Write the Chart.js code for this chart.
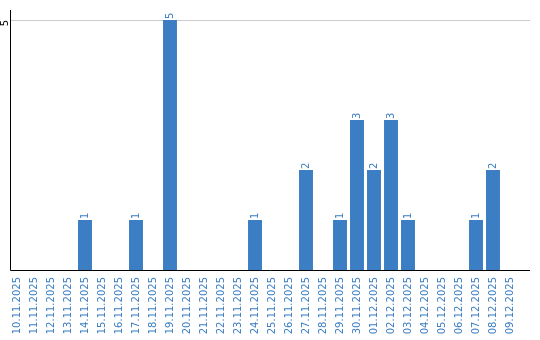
<!DOCTYPE html>
<html>
<head>
<meta charset="utf-8">
<script src="https://cdn.jsdelivr.net/npm/chart.js@4"></script>
<style>
html,body{margin:0;padding:0;background:#fff;}
#wrap{width:540px;height:340px;position:relative;}
</style>
</head>
<body>
<div id="wrap"><canvas id="c" width="540" height="340"></canvas></div>
<script>
const categories = ["10.11.2025","11.11.2025","12.11.2025","13.11.2025","14.11.2025","15.11.2025","16.11.2025","17.11.2025","18.11.2025","19.11.2025","20.11.2025","21.11.2025","22.11.2025","23.11.2025","24.11.2025","25.11.2025","26.11.2025","27.11.2025","28.11.2025","29.11.2025","30.11.2025","01.12.2025","02.12.2025","03.12.2025","04.12.2025","05.12.2025","06.12.2025","07.12.2025","08.12.2025","09.12.2025"];
const counts = [0,0,0,0,1,0,0,1,0,5,0,0,0,0,1,0,0,2,0,1,3,2,3,1,0,0,0,1,2,0];
const yTicks = [5];

const BLUE = '#3b7ec3';
const FONT = '"DejaVu Sans", Verdana, sans-serif';

const linesPlugin = {
  id: 'lines',
  beforeDatasetsDraw(chart) {
    const ctx = chart.ctx, y = chart.scales.y, a = chart.chartArea;
    ctx.save();
    ctx.lineWidth = 1;
    ctx.strokeStyle = '#cccccc';
    yTicks.forEach(v => {
      const py = Math.round(y.getPixelForValue(v)) + 0.5;
      ctx.beginPath(); ctx.moveTo(10, py); ctx.lineTo(530, py); ctx.stroke();
    });
    ctx.restore();
  },
  afterDatasetsDraw(chart) {
    const ctx = chart.ctx, y = chart.scales.y;
    const base = Math.round(y.getPixelForValue(0)) + 0.5;
    ctx.save();
    ctx.strokeStyle = '#000';
    ctx.lineWidth = 1;
    ctx.beginPath(); ctx.moveTo(10.5, 10); ctx.lineTo(10.5, base); ctx.lineTo(530, base); ctx.stroke();
    // y tick labels (rotated)
    ctx.fillStyle = '#000';
    ctx.font = '10px ' + FONT;
    yTicks.forEach(v => {
      const py = y.getPixelForValue(v);
      ctx.save();
      ctx.translate(5, py);
      ctx.rotate(-Math.PI / 2);
      ctx.textAlign = 'right';
      ctx.textBaseline = 'middle';
      ctx.fillText(String(v), 0, 0);
      ctx.restore();
    });
    // value labels
    const meta = chart.getDatasetMeta(0);
    ctx.fillStyle = BLUE;
    meta.data.forEach((bar, i) => {
      const v = counts[i];
      if (!v) return;
      ctx.save();
      ctx.translate(bar.x, bar.y - 1);
      ctx.rotate(-Math.PI / 2);
      ctx.textAlign = 'left';
      ctx.textBaseline = 'middle';
      ctx.fillText(String(v), 0, 0);
      ctx.restore();
    });
    ctx.restore();
  }
};

new Chart(document.getElementById('c'), {
  type: 'bar',
  data: {
    labels: categories,
    datasets: [{ data: counts, backgroundColor: BLUE, borderWidth: 0, barPercentage: 0.82, categoryPercentage: 1.0 }]
  },
  options: {
    responsive: false,
    animation: false,
    layout: { padding: { left: 8.5, right: 21.5, top: 20, bottom: 0 } },
    plugins: { legend: { display: false }, tooltip: { enabled: false } },
    scales: {
      x: {
        grid: { display: false, drawTicks: false },
        border: { display: false },
        ticks: { color: BLUE, font: { family: FONT, size: 10 }, minRotation: 90, maxRotation: 90, autoSkip: false, padding: 7 },
        afterFit(s) { s.height = 70; }
      },
      y: {
        min: 0, max: 5,
        grid: { display: false, drawTicks: false },
        border: { display: false },
        ticks: { display: false, stepSize: 5 },
        afterFit(s) { s.width = 0; }
      }
    }
  },
  plugins: [linesPlugin]
});
</script>
</body>
</html>
